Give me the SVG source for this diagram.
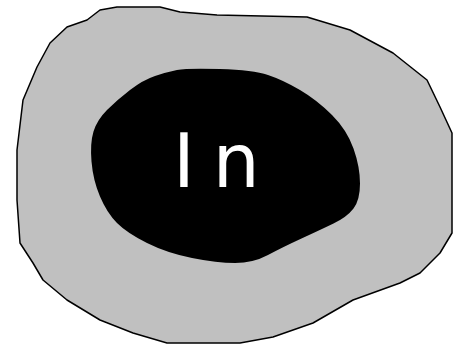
<svg xmlns="http://www.w3.org/2000/svg" width="455" height="350" viewBox="0 0 455 350">
<style>
.outer{fill:#c0c0c0;stroke:#000;stroke-width:1.5;stroke-linejoin:round}
.inner{fill:#000;stroke:none}
.lbl{font-family:"DejaVu Sans",Verdana,sans-serif;font-size:74px;fill:#fff;letter-spacing:18px}
</style>
<rect width="455" height="350" fill="#fff"/>
<g id="outer">
<path class="outer" d="M100,10 L117,7 L160,7 L180,12 L217,15 L307,17 L350,30 L393,53 L427,80 L440,107 L452,133 L452,233 L440,253 L420,273 L400,283 L353,300 L313,323 L273,337 L240,343 L167,343 L133,333 L100,320 L67,300 L43,280 L33,263 L20,243 L17,200 L17,150 L23,100 L37,67 L50,43 L67,27 L87,20 Z"/>
</g>
<g id="inner">
<path class="inner" d="M220,69 Q253,70 268,75 Q283,80 300,90 Q317,100 332,115 Q347,130 353.5,148.5 Q360,167 360,183.5 Q360,200 353.5,208.5 Q347,217 333.5,223.5 Q320,230 301.5,238.5 Q283,247 268,255 Q253,263 235,263 Q217,263 192,258 Q167,253 147,243 Q127,233 117,223 Q107,213 100,196.5 Q93,180 91.5,161.5 Q90,143 93.5,131.5 Q97,120 107,110 Q117,100 130,90 Q143,80 155,76 Q167,72 177,70 Q187,68 220,69 Z"/>
<text class="lbl" x="173" y="187">In</text>
</g>
<g id="connectors"/>
</svg>
